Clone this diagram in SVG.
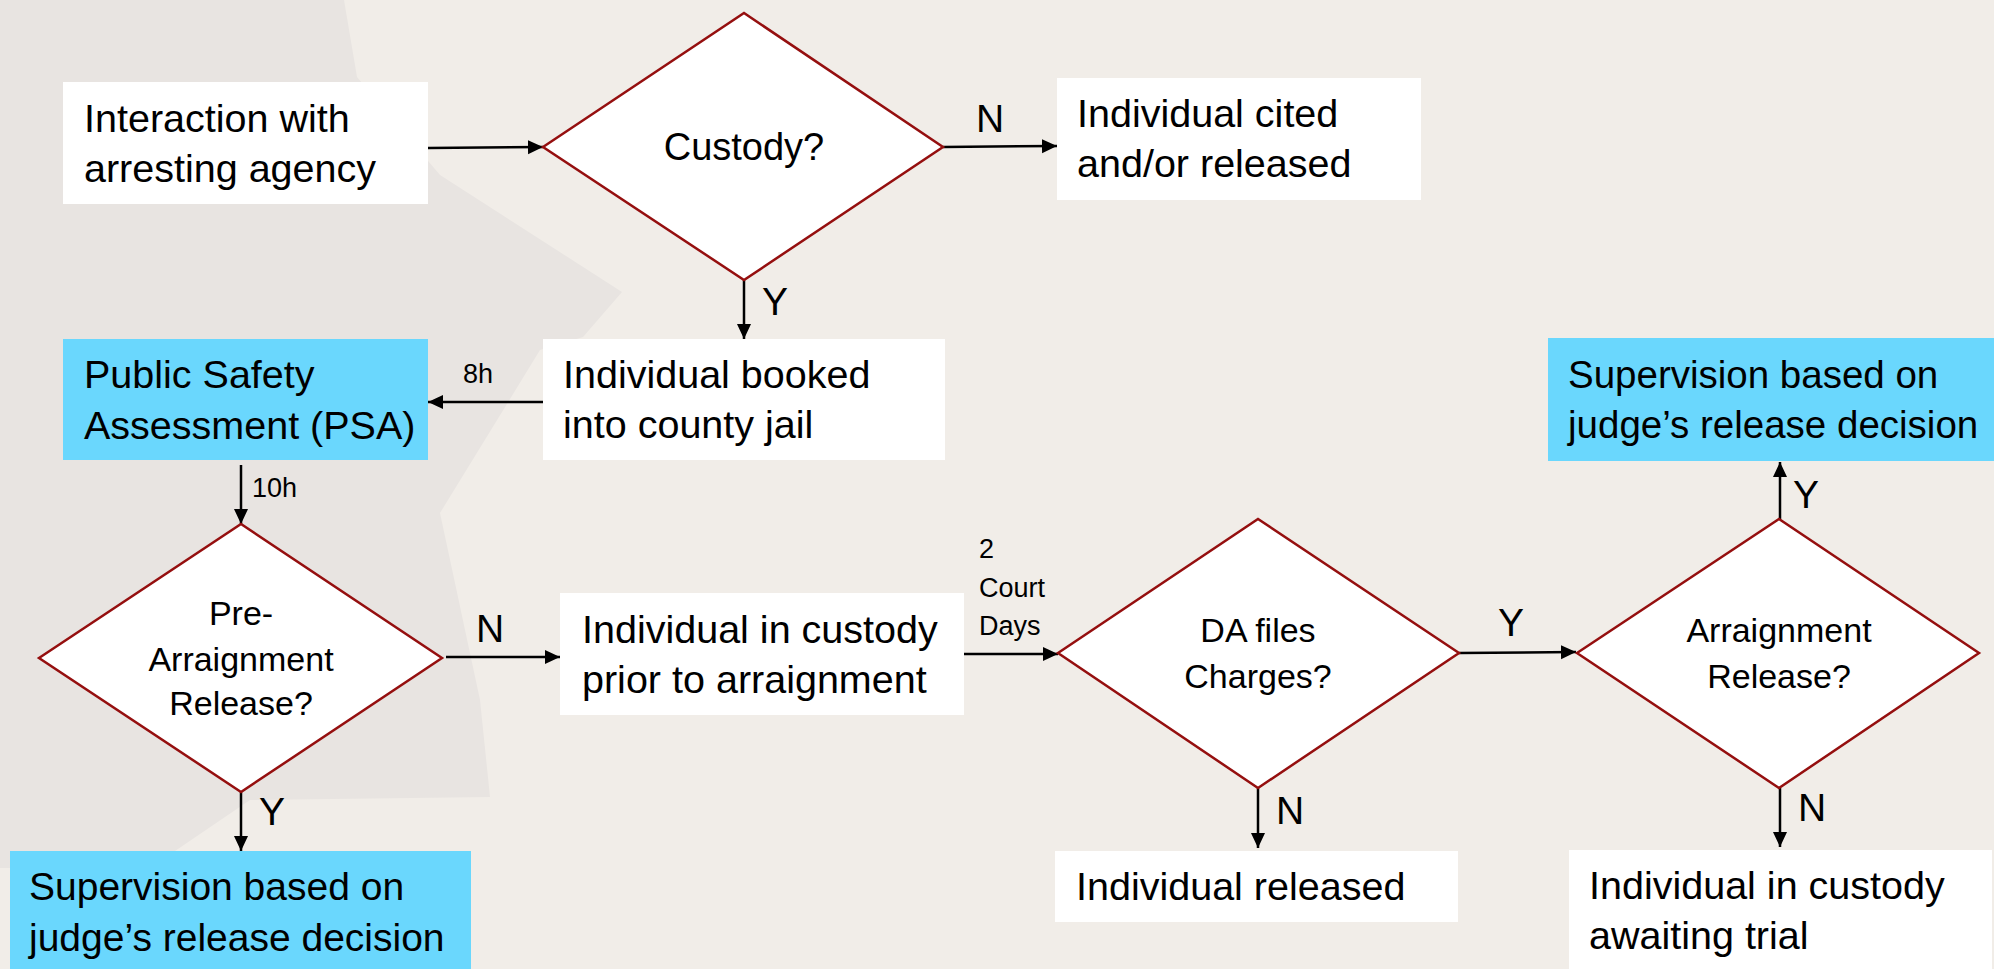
<svg xmlns="http://www.w3.org/2000/svg" width="1994" height="969" viewBox="0 0 1994 969">
<defs>
<style>
.bx{fill:#ffffff}
.bl{fill:#6ad7fd}
.dm{fill:#ffffff;stroke:#950f0f;stroke-width:2.5}
.t{font-family:"Liberation Sans",Arial,sans-serif;font-size:39.5px;fill:#000}
.td{font-family:"Liberation Sans",Arial,sans-serif;font-size:34px;fill:#000;text-anchor:middle}
.ts{font-family:"Liberation Sans",Arial,sans-serif;font-size:27px;fill:#000}
.lb{font-family:"Liberation Sans",Arial,sans-serif;font-size:39px;fill:#000}
.c{stroke:#000;stroke-width:2.5;fill:none;marker-end:url(#ah)}
</style>
<marker id="ah" markerUnits="userSpaceOnUse" markerWidth="16" markerHeight="16" refX="15" refY="7" orient="auto">
<path d="M0,0 L15,7 L0,14 Z" fill="#000"/>
</marker>
</defs>
<rect width="1994" height="969" fill="#f1ede8"/>
<polygon points="0,0 344,0 357,77 440,175 622,292 583,337 540,350 440,513 480,700 490,797 250,800 150,868 0,868" fill="#e8e4e1"/>

<g id="connectors">
<line class="c" x1="428" y1="148" x2="543" y2="147"/>
<line class="c" x1="943" y1="147" x2="1057" y2="146"/>
<line class="c" x1="744" y1="280" x2="744" y2="339"/>
<line class="c" x1="543" y1="402" x2="428" y2="402"/>
<line class="c" x1="241" y1="465" x2="241" y2="524"/>
<line class="c" x1="446" y1="657" x2="560" y2="657"/>
<line class="c" x1="241" y1="792" x2="241" y2="851"/>
<line class="c" x1="964" y1="654" x2="1058" y2="654"/>
<line class="c" x1="1459" y1="653" x2="1576" y2="652"/>
<line class="c" x1="1258" y1="788" x2="1258" y2="848"/>
<line class="c" x1="1780" y1="519" x2="1780" y2="462"/>
<line class="c" x1="1780" y1="788" x2="1780" y2="847"/>
<text class="lb" x="976" y="132">N</text>
<text class="lb" x="762" y="315">Y</text>
<text class="ts" x="463" y="383">8h</text>
<text class="ts" x="252" y="497">10h</text>
<text class="lb" x="476" y="642">N</text>
<text class="lb" x="259" y="825">Y</text>
<text class="ts" x="979" y="558">2</text>
<text class="ts" x="979" y="597">Court</text>
<text class="ts" x="979" y="635">Days</text>
<text class="lb" x="1498" y="636">Y</text>
<text class="lb" x="1276" y="824">N</text>
<text class="lb" x="1793" y="508">Y</text>
<text class="lb" x="1798" y="821">N</text>
</g>

<g id="interaction">
<rect class="bx" x="63" y="82" width="365" height="122"/>
<text class="t" x="84" y="132">Interaction with</text>
<text class="t" x="84" y="182">arresting agency</text>
</g>

<g id="custody">
<polygon class="dm" points="543,147 744,13 943,147 744,280"/>
<text class="td" x="744" y="160" style="font-size:38px">Custody?</text>
</g>

<g id="cited">
<rect class="bx" x="1057" y="78" width="364" height="122"/>
<text class="t" x="1077" y="127">Individual cited</text>
<text class="t" x="1077" y="177">and/or released</text>
</g>

<g id="booked">
<rect class="bx" x="543" y="339" width="402" height="121"/>
<text class="t" x="563" y="388">Individual booked</text>
<text class="t" x="563" y="438">into county jail</text>
</g>

<g id="psa">
<rect class="bl" x="63" y="339" width="365" height="121"/>
<text class="t" x="84" y="388">Public Safety</text>
<text class="t" x="84" y="439">Assessment (PSA)</text>
</g>

<g id="prearraignment">
<polygon class="dm" points="39,658 241,524 442,658 241,792"/>
<text class="td" x="241" y="625">Pre-</text>
<text class="td" x="241" y="671">Arraignment</text>
<text class="td" x="241" y="715">Release?</text>
</g>

<g id="supervision-left">
<rect class="bl" x="10" y="851" width="461" height="118"/>
<text class="t" x="29" y="900" style="font-size:39px">Supervision based on</text>
<text class="t" x="29" y="951" style="font-size:39px">judge’s release decision</text>
</g>

<g id="prior">
<rect class="bx" x="560" y="593" width="404" height="122"/>
<text class="t" x="582" y="643">Individual in custody</text>
<text class="t" x="582" y="693">prior to arraignment</text>
</g>

<g id="dafiles">
<polygon class="dm" points="1058,653 1258,519 1459,653 1258,788"/>
<text class="td" x="1258" y="642">DA files</text>
<text class="td" x="1258" y="688">Charges?</text>
</g>

<g id="released">
<rect class="bx" x="1055" y="851" width="403" height="71"/>
<text class="t" x="1076" y="900">Individual released</text>
</g>

<g id="arraignment">
<polygon class="dm" points="1577,653 1779,519 1979,653 1779,788"/>
<text class="td" x="1779" y="642">Arraignment</text>
<text class="td" x="1779" y="688">Release?</text>
</g>

<g id="supervision-right">
<rect class="bl" x="1548" y="338" width="446" height="123"/>
<text class="t" x="1568" y="388" style="font-size:38.5px">Supervision based on</text>
<text class="t" x="1568" y="438" style="font-size:38.5px">judge’s release decision</text>
</g>

<g id="awaiting">
<rect class="bx" x="1569" y="850" width="423" height="119"/>
<text class="t" x="1589" y="899">Individual in custody</text>
<text class="t" x="1589" y="949">awaiting trial</text>
</g>
</svg>
